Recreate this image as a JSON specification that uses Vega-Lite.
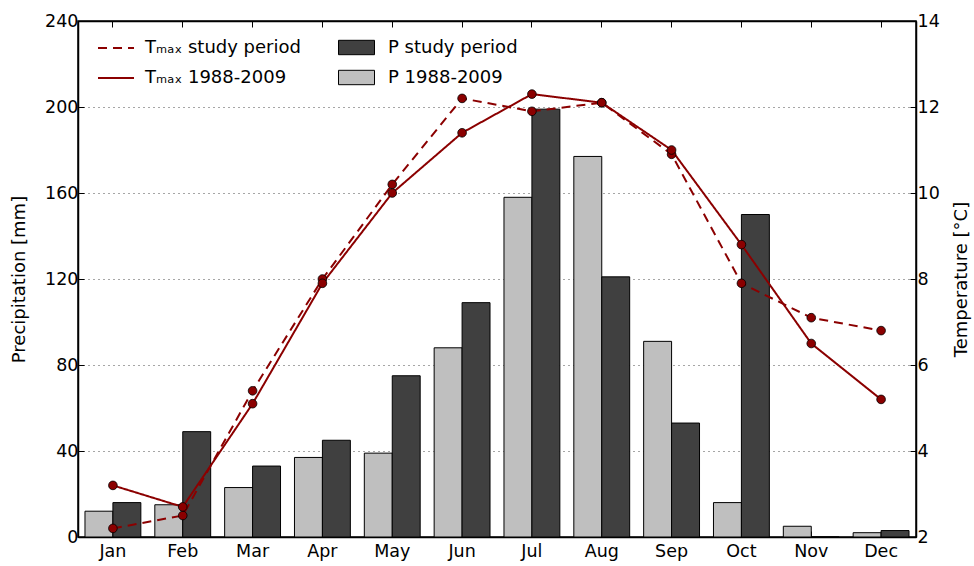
{
  "$schema": "https://vega.github.io/schema/vega-lite/v6.json",
  "width": 838,
  "height": 516,
  "autosize": "none",
  "padding": {"left": 78, "top": 21, "right": 58, "bottom": 29},
  "background": "white",
  "config": {
    "font": "DejaVu Sans",
    "view": {"stroke": "black", "strokeWidth": 1.5},
    "axis": {
      "labelFont": "DejaVu Sans", "labelFontSize": 17.5, "labelColor": "black",
      "titleFont": "DejaVu Sans", "titleFontSize": 18, "titleFontWeight": "normal", "titleColor": "black",
      "domainColor": "black", "domainWidth": 1.5, "tickColor": "black", "tickWidth": 1, "grid": false
    },
    "legend": {"labelFont": "DejaVu Sans", "labelFontSize": 18, "labelColor": "black"}
  },
  "datasets": {
    "precip": [
      {"month": "Jan", "series": "P 1988-2009", "value": 12}, {"month": "Jan", "series": "P study period", "value": 16},
      {"month": "Feb", "series": "P 1988-2009", "value": 15}, {"month": "Feb", "series": "P study period", "value": 49},
      {"month": "Mar", "series": "P 1988-2009", "value": 23}, {"month": "Mar", "series": "P study period", "value": 33},
      {"month": "Apr", "series": "P 1988-2009", "value": 37}, {"month": "Apr", "series": "P study period", "value": 45},
      {"month": "May", "series": "P 1988-2009", "value": 39}, {"month": "May", "series": "P study period", "value": 75},
      {"month": "Jun", "series": "P 1988-2009", "value": 88}, {"month": "Jun", "series": "P study period", "value": 109},
      {"month": "Jul", "series": "P 1988-2009", "value": 158}, {"month": "Jul", "series": "P study period", "value": 199},
      {"month": "Aug", "series": "P 1988-2009", "value": 177}, {"month": "Aug", "series": "P study period", "value": 121},
      {"month": "Sep", "series": "P 1988-2009", "value": 91}, {"month": "Sep", "series": "P study period", "value": 53},
      {"month": "Oct", "series": "P 1988-2009", "value": 16}, {"month": "Oct", "series": "P study period", "value": 150},
      {"month": "Nov", "series": "P 1988-2009", "value": 5}, {"month": "Nov", "series": "P study period", "value": 0},
      {"month": "Dec", "series": "P 1988-2009", "value": 2}, {"month": "Dec", "series": "P study period", "value": 3}
    ],
    "temp": [
      {"month": "Jan", "series": "Tₘₐₓ study period", "value": 2.2}, {"month": "Jan", "series": "Tₘₐₓ 1988-2009", "value": 3.2},
      {"month": "Feb", "series": "Tₘₐₓ study period", "value": 2.5}, {"month": "Feb", "series": "Tₘₐₓ 1988-2009", "value": 2.7},
      {"month": "Mar", "series": "Tₘₐₓ study period", "value": 5.4}, {"month": "Mar", "series": "Tₘₐₓ 1988-2009", "value": 5.1},
      {"month": "Apr", "series": "Tₘₐₓ study period", "value": 8.0}, {"month": "Apr", "series": "Tₘₐₓ 1988-2009", "value": 7.9},
      {"month": "May", "series": "Tₘₐₓ study period", "value": 10.2}, {"month": "May", "series": "Tₘₐₓ 1988-2009", "value": 10.0},
      {"month": "Jun", "series": "Tₘₐₓ study period", "value": 12.2}, {"month": "Jun", "series": "Tₘₐₓ 1988-2009", "value": 11.4},
      {"month": "Jul", "series": "Tₘₐₓ study period", "value": 11.9}, {"month": "Jul", "series": "Tₘₐₓ 1988-2009", "value": 12.3},
      {"month": "Aug", "series": "Tₘₐₓ study period", "value": 12.1}, {"month": "Aug", "series": "Tₘₐₓ 1988-2009", "value": 12.1},
      {"month": "Sep", "series": "Tₘₐₓ study period", "value": 10.9}, {"month": "Sep", "series": "Tₘₐₓ 1988-2009", "value": 11.0},
      {"month": "Oct", "series": "Tₘₐₓ study period", "value": 7.9}, {"month": "Oct", "series": "Tₘₐₓ 1988-2009", "value": 8.8},
      {"month": "Nov", "series": "Tₘₐₓ study period", "value": 7.1}, {"month": "Nov", "series": "Tₘₐₓ 1988-2009", "value": 6.5},
      {"month": "Dec", "series": "Tₘₐₓ study period", "value": 6.8}, {"month": "Dec", "series": "Tₘₐₓ 1988-2009", "value": 5.2}
    ]
  },
  "layer": [
    {
      "data": {"name": "precip"},
      "mark": {"type": "bar", "stroke": "black", "strokeWidth": 1},
      "encoding": {
        "x": {
          "field": "month", "type": "nominal",
          "sort": ["Jan", "Feb", "Mar", "Apr", "May", "Jun", "Jul", "Aug", "Sep", "Oct", "Nov", "Dec"],
          "scale": {"paddingInner": 0, "paddingOuter": 0},
          "axis": {"title": null, "orient": "bottom", "labelAngle": 0, "tickSize": -6, "labelPadding": 11}
        },
        "xOffset": {
          "field": "series", "type": "nominal",
          "sort": ["P 1988-2009", "P study period"],
          "scale": {"paddingInner": 0, "paddingOuter": 0.25}
        },
        "y": {
          "field": "value", "type": "quantitative",
          "scale": {"domain": [0, 240], "nice": false},
          "axis": {
            "title": "Precipitation [mm]", "orient": "left", "values": [0, 40, 80, 120, 160, 200, 240],
            "grid": true, "gridDash": [1, 4], "gridColor": "black", "gridOpacity": 0.7, "gridWidth": 1,
            "tickSize": -6, "labelPadding": 6, "titlePadding": 16
          }
        },
        "fill": {
          "field": "series", "type": "nominal",
          "scale": {"domain": ["P study period", "P 1988-2009"], "range": ["#404040", "#bfbfbf"]},
          "legend": {
            "orient": "none", "legendX": 260, "legendY": 8, "title": null, "padding": 0,
            "symbolType": "M-1,-0.4H1V0.4H-1Z", "symbolSize": 1296, "symbolStrokeColor": "black",
            "symbolStrokeWidth": 1, "symbolOpacity": 1, "labelOffset": 13, "rowPadding": 2
          }
        }
      }
    },
    {
      "data": {"name": "temp"},
      "layer": [
        {
          "mark": {"type": "line", "color": "#8b0000", "strokeWidth": 2},
          "encoding": {
            "x": {
              "field": "month", "type": "nominal",
              "sort": ["Jan", "Feb", "Mar", "Apr", "May", "Jun", "Jul", "Aug", "Sep", "Oct", "Nov", "Dec"],
              "axis": {"title": null, "orient": "top", "labels": false, "tickSize": -6}
            },
            "y": {
              "field": "value", "type": "quantitative",
              "scale": {"domain": [2, 14], "nice": false},
              "axis": {"title": "Temperature [°C]", "orient": "right", "values": [2, 4, 6, 8, 10, 12, 14], "tickSize": -6, "labelPadding": 7, "titlePadding": 31, "titleAngle": 270}
            },
            "strokeDash": {
              "field": "series", "type": "nominal",
              "scale": {"domain": ["Tₘₐₓ study period", "Tₘₐₓ 1988-2009"], "range": [[9, 6], [1, 0]]},
              "legend": {
                "orient": "none", "legendX": 19, "legendY": 8, "title": null, "padding": 0,
                "symbolType": "stroke", "symbolSize": 1296, "symbolStrokeColor": "#8b0000",
                "symbolStrokeWidth": 2, "labelOffset": 10, "rowPadding": 2
              }
            }
          }
        },
        {
          "mark": {"type": "circle", "size": 75, "color": "#8b0000", "opacity": 1, "stroke": "black", "strokeWidth": 0.8},
          "encoding": {
            "x": {
              "field": "month", "type": "nominal",
              "sort": ["Jan", "Feb", "Mar", "Apr", "May", "Jun", "Jul", "Aug", "Sep", "Oct", "Nov", "Dec"]
            },
            "y": {"field": "value", "type": "quantitative"},
            "detail": {"field": "series", "type": "nominal"}
          }
        }
      ]
    }
  ],
  "resolve": {"scale": {"y": "independent"}}
}
